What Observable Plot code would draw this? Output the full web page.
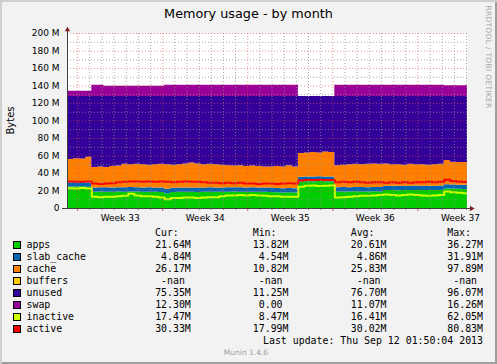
<!DOCTYPE html>
<html>
<head>
<meta charset="utf-8">
<script src="https://cdn.jsdelivr.net/npm/d3@7"></script>
<script src="https://cdn.jsdelivr.net/npm/@observablehq/plot@0.6"></script>
<style>
html,body{margin:0;padding:0;background:#F2F2F2;}
#wrap{position:relative;width:497px;height:364px;background:#F2F2F2;overflow:hidden;
  box-shadow: inset 2px 2px 0 #CFCFCF, inset -2px -2px 0 #9E9E9E;}
#wrap svg{position:absolute;left:0;top:0;}
.t{position:absolute;white-space:pre;color:#000;}
.sq{position:absolute;width:8px;height:8px;box-sizing:border-box;border:1px solid #000;}
</style>
</head>
<body>
<div id="wrap"></div>
<script>
// ---------- data (values in M, one sample every 12 hours) ----------
const apps = [24.5,24.5,24.8,24.3, 18.6,18.8,18.7,18.5,18.9,18.7,19.0,18.8,18.6,18.7,18.5,18.4, 17.0,18.2,18.5,18.5,18.6,18.4,18.5,18.7,18.6,18.5, 18.7,18.8,18.7,18.6,18.7,18.6,18.5,18.4, 17.9,17.8,17.9,17.8, 30.2,30.6,30.5,30.8,30.6,30.7, 18.8,19.0,18.9,19.1,19.0,18.9,19.1,19.0, 20.5,20.6,20.4,20.6,20.5,20.7,20.6,20.5,20.6,20.7, 22.4,22.2,21.9,21.7,21.6];
const slab_cache = [4.9,4.9,4.9,4.9, 4.9,4.9,4.9,4.9,4.9,4.9,4.9,4.9,4.9,4.9,4.9,4.9, 4.9,4.9,4.9,4.9,4.9,4.9,4.9,4.9,4.9,4.9, 4.9,4.9,4.9,4.9,4.9,4.9,4.9,4.9, 4.9,4.9,4.9,4.9, 5.4,5.4,5.4,5.4,5.4,5.4, 4.9,4.9,4.9,4.9,4.9,4.9,4.9,4.9, 4.9,4.9,4.9,4.9,4.9,4.9,4.9,4.9,4.9,4.9, 4.8,4.8,4.8,4.8,4.8];
const cache = [26.6,27.6,26.8,29.3, 23.5,23.8,23.4,24.6,24.7,26.9,26.1,26.8,26.5,25.9,26.6,27.2, 28.1,26.4,26.6,27.6,28.5,27.7,26.6,26.9,26.5,26.1, 25.4,24.8,25.4,24.5,24.9,24.5,24.1,24.2, 25.2,24.8,26.2,24.8, 27.4,27.5,28.1,27.3,28.5,27.9, 25.3,25.6,26.2,26.5,26.1,26.7,27.0,26.6, 25.6,24.5,24.7,24.0,25.1,24.4,24.5,24.1,24.5,24.9, 27.8,26.0,25.8,26.0,26.3];
const unused = [72,71,71.5,69.5, 81,80.5,81,80,79.5,77.5,78,77.5,78,78.5,78,77.5, 78,78.5,78,77,76,77,78,77.5,78,78.5, 79,79.5,79,80,79.5,80,80.5,80.5, 80,80.5,79,80.5, 65,64.5,64,64.5,63.5,64, 79,78.5,78,77.5,78,77.5,77,77.5, 77,78,78,78.5,77.5,78,78,78.5,78,77.5, 73,75,75.5,75.5,75.3];
const swap = [6.1,6.1,6.1,6.1, 12.8,12.8, 11.6,11.6,11.6,11.6,11.6,11.6,11.6,11.6,11.6,11.6, 12.8,12.8,12.8,12.8,12.8,12.8,12.8,12.8,12.8,12.8,12.8,12.8,12.8,12.8,12.8,12.8,12.8,12.8,12.8,12.8,12.8,12.8, 0,0,0,0,0,0, 12.8,12.8,12.8,12.8,12.8,12.8,12.8,12.8,12.8,12.8,12.8,12.8,12.8,12.8,12.8,12.8,12.8,12.8, 12.3,12.3,12.3,12.3,12.3];
const inactive = [23.2,23.0,23.3,22.8, 13.5,13.0,13.5,13.5,14.0,14.5,17.0,15.0,14.0,14.0,13.5,12.5, 10.5,12.0,12.0,12.5,12.5,12.0,12.5,13.0,13.0,14.0, 15.0,15.0,15.5,15.0,15.5,15.0,14.5,14.0, 14.0,13.5,13.5,13.5, 25.0,26.0,26.2,25.8,26.0,26.3, 12.5,13.0,13.5,14.0,14.5,14.5,15.0,15.5, 16.0,15.5,15.0,15.5,16.0,15.5,15.0,14.5,15.0,15.5, 19.5,18.5,18.0,17.5,17.5];
const active = [30.8,30.5,30.7,31.0, 28.5,28.0,28.5,29.0,30.0,30.5,31.0,31.0,30.5,31.0,30.5,31.0, 30.5,30.0,30.5,31.0,30.5,30.5,30.0,29.5,29.5,29.0, 29.5,29.0,29.5,28.5,28.5,28.0,28.5,28.5, 28.0,28.5,29.0,28.5, 32.0,32.5,32.5,32.8,32.5,32.5, 30.0,30.5,30.0,30.5,30.0,29.5,30.0,30.0, 29.5,30.0,29.5,30.0,29.5,30.0,30.0,30.5,30.0,30.5, 32.8,31.5,30.5,30.3,30.3];

const legendNames  = ["apps","slab_cache","cache","buffers","unused","swap","inactive","active"];
const legendColors = ["#00CC00","#0066B3","#FF8000","#FFCC00","#330099","#990099","#CCFF00","#FF0000"];
const curVals = ["21.64M","4.84M","26.17M","-nan","75.35M","12.30M","17.47M","30.33M"];
const minVals = ["13.82M","4.54M","10.82M","-nan","11.25M","0.00","8.47M","17.99M"];
const avgVals = ["20.61M","4.86M","25.83M","-nan","76.70M","11.07M","16.41M","30.02M"];
const maxVals = ["36.27M","31.91M","97.89M","-nan","96.07M","16.26M","62.05M","80.83M"];
const colHeaders = ["Cur:","Min:","Avg:","Max:"];
const yTicks = [0,20,40,60,80,100,120,140,160,180,200];
const title = "Memory usage - by month";
const lastUpdate = "Last update: Thu Sep 12 01:50:04 2013";

// ---------- time axis ----------
const H = 36e5;
const start = new Date(Date.UTC(2013, 7, 11, 4));
const spanHours = 790;
const end = new Date(+start + spanHours * H);
const hPerPx = spanHours / 400;
const times = apps.map((_, i) => new Date(+start + i * 12 * H));

const stacked = [["apps", apps], ["slab_cache", slab_cache], ["cache", cache], ["unused", unused], ["swap", swap]];
const areaRows = stacked.flatMap(([name, vals]) => vals.map((v, i) => ({t: times[i], v, name})));
const lineRows = [["inactive", inactive], ["active", active]].flatMap(([name, vals]) => vals.map((v, i) => ({t: times[i], v, name})));

const mondays = d3.utcMonday.range(start, end);
const days = d3.utcDay.range(start, end).filter(d => d.getUTCDay() !== 1);
const weekLabelPos = mondays.map(d => new Date(+d + 84 * H));
const yMajor = yTicks.filter(d => d > 0);
const yMinor = yTicks.slice(0, -1).map(d => d + 10);

const gridMinor = {stroke: "rgb(143,143,143)", strokeOpacity: 0.75, strokeDasharray: "1,2"};
const gridMajor = {stroke: "rgb(222,79,79)", strokeOpacity: 0.6, strokeDasharray: "1,2"};

const chart = Plot.plot({
  width: 497, height: 230,
  marginLeft: 67, marginRight: 30, marginTop: 33, marginBottom: 22,
  style: {background: "transparent", fontFamily: "DejaVu Sans", fontSize: "9px", color: "#000"},
  x: {type: "utc", domain: [start, end]},
  y: {domain: [0, 200]},
  color: {domain: legendNames, range: legendColors},
  marks: [
    Plot.frame({fill: "white", stroke: "none"}),
    Plot.areaY(areaRows, {x: "t", y: "v", z: "name", fill: "name", curve: "step-after", clip: true}),
    Plot.lineY(lineRows, {x: "t", y: "v", z: "name", stroke: "name", curve: "step-after", strokeWidth: 2, clip: true}),
    Plot.ruleY(yMinor, gridMinor),
    Plot.ruleX(days, gridMinor),
    Plot.ruleY(yMajor, gridMajor),
    Plot.ruleX(mondays, gridMajor),
    Plot.axisY({ticks: yTicks, tickSize: 0, tickPadding: 8, tickFormat: d => d === 0 ? "0" : d + " M", label: null}),
    Plot.axisX({ticks: weekLabelPos, tickSize: 0, tickPadding: 6, tickFormat: d3.utcFormat("Week %V"), label: null}),
    Plot.axisX({ticks: days, tickSize: 2, tickFormat: () => "", stroke: "#8f8f8f", label: null}),
    Plot.axisX({ticks: mondays, tickSize: 3, tickFormat: () => "", stroke: "#de4f4f", label: null}),
    Plot.ruleX([start], {y1: 0, y2: 203.5, stroke: "#404040"}),
    Plot.ruleY([0], {x1: new Date(+start - 5 * hPerPx * H), x2: new Date(+end + 3 * hPerPx * H), stroke: "#404040"}),
    Plot.dot([{t: start, v: 204.3}], {x: "t", y: "v", symbol: "triangle", r: 2, fill: "#801F1F", stroke: "none"}),
    Plot.dot([{t: new Date(+end + 4 * hPerPx * H), v: 0}], {x: "t", y: "v", symbol: "triangle", r: 2, rotate: 90, fill: "#801F1F", stroke: "none"})
  ]
});

const wrap = document.getElementById("wrap");
wrap.appendChild(chart);

// ---------- text helpers ----------
function baseOff(f, L) { return (L - 1.164 * f) / 2 + 0.928 * f; }
function addText(text, o) {
  const d = document.createElement("div");
  d.className = "t";
  const f = o.size, L = Math.ceil(f * 1.25);
  d.style.fontSize = f + "px";
  d.style.lineHeight = L + "px";
  d.style.fontFamily = o.family || '"DejaVu Sans Mono", monospace';
  if (o.color) d.style.color = o.color;
  if (o.spacing) d.style.letterSpacing = o.spacing + "px";
  d.style.top = (o.baseline - baseOff(f, L)) + "px";
  if (o.right != null) { d.style.right = (497 - o.right) + "px"; d.style.textAlign = "right"; }
  else if (o.center != null) { d.style.left = "0px"; d.style.width = (2 * o.center) + "px"; d.style.textAlign = "center"; }
  else d.style.left = o.x + "px";
  d.textContent = text;
  wrap.appendChild(d);
  return d;
}
function addRotated(text, cx, cy, deg, o) {
  const d = document.createElement("div");
  d.className = "t";
  const f = o.size, L = Math.ceil(f * 1.25);
  d.style.fontSize = f + "px";
  d.style.lineHeight = L + "px";
  d.style.fontFamily = o.family;
  d.style.color = o.color || "#000";
  if (o.spacing) d.style.letterSpacing = o.spacing + "px";
  d.style.width = "200px";
  d.style.textAlign = "center";
  d.style.left = (cx - 100) + "px";
  d.style.top = (cy - L / 2) + "px";
  d.style.transform = `rotate(${deg}deg)`;
  d.style.transformOrigin = "50% 50%";
  d.textContent = text;
  wrap.appendChild(d);
}

// title, axis label, watermarks
addText(title, {center: 248.5, baseline: 18.2, size: 12.8, family: '"DejaVu Sans", sans-serif'});
addRotated("Bytes", 9.5, 120.5, -90, {size: 10, family: '"DejaVu Sans", sans-serif'});
addRotated("RRDTOOL / TOBI OETIKER", 488, 56.5, 90, {size: 7.5, family: '"DejaVu Sans", sans-serif', color: "#a8a8a8", spacing: 0.3});
addText("Munin 1.4.6", {center: 246, baseline: 355.7, size: 7.5, family: '"DejaVu Sans", sans-serif', color: "#a0a0a0"});

// legend
const mono = 9.9;
const colRight = [190.8, 288.5, 386.5, 483];
const colW = 6 * 0.602 * mono;
colHeaders.forEach((h, j) => addText(h, {x: colRight[j] - colW, baseline: 236, size: mono}));
const cols = [curVals, minVals, avgVals, maxVals];
legendNames.forEach((name, k) => {
  const bl = 248 + 11.93 * k;
  const sq = document.createElement("div");
  sq.className = "sq";
  sq.style.left = "13px";
  sq.style.top = (bl - 6.8) + "px";
  sq.style.background = legendColors[k];
  wrap.appendChild(sq);
  addText(name, {x: 26.5, baseline: bl, size: mono});
  cols.forEach((vals, j) => {
    const v = vals[k];
    addText(v.endsWith("M") ? v : v + " ", {right: colRight[j], baseline: bl, size: mono});
  });
});
addText(lastUpdate, {right: 483, baseline: 343.5, size: mono});
</script>
</body>
</html>
